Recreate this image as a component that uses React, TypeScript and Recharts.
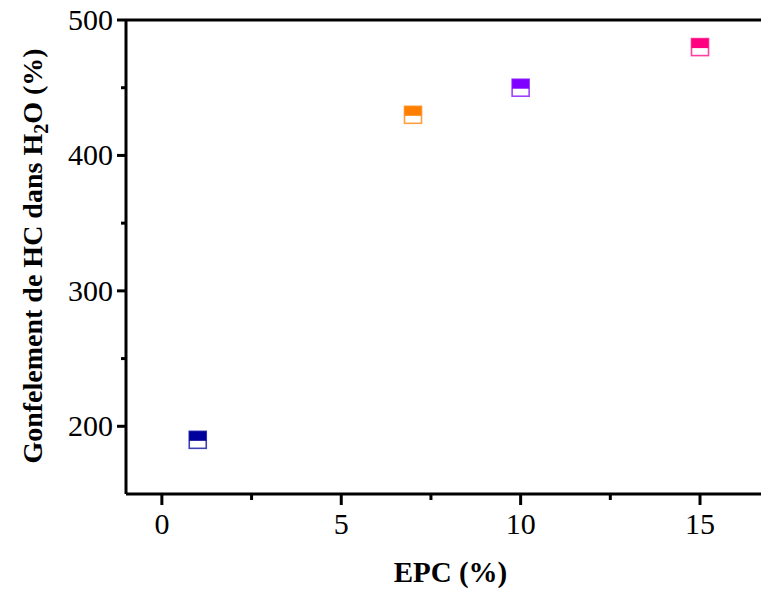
import React from 'react';
import { ScatterChart, Scatter, XAxis, YAxis, ReferenceLine } from 'recharts';

const epc = [1, 7, 10, 15];
const swelling = [190, 430, 450, 480];
const pointColors = ['#00009C', '#FF8000', '#8000FF', '#FF0080'];
const xTicks = [0, 2.5, 5, 7.5, 10, 12.5, 15];
const xMajor = [0, 5, 10, 15];
const yTicks = [200, 250, 300, 350, 400, 450, 500];
const yMajor = [200, 300, 400, 500];

const data = epc.map((x, i) => ({ x, y: swelling[i], color: pointColors[i] }));

const FONT = '"Liberation Serif", "Times New Roman", serif';

const XTick = (props: any) => {
  const { x, y, payload } = props;
  const major = xMajor.includes(payload.value);
  return (
    <g>
      <line x1={x} x2={x} y1={y} y2={y + (major ? 11 : 6)} stroke="#000" strokeWidth={3} />
      {major && (
        <text x={x} y={y + 40} textAnchor="middle" fontFamily={FONT} fontSize={30} fill="#000">
          {payload.value}
        </text>
      )}
    </g>
  );
};

const YTick = (props: any) => {
  const { x, y, payload } = props;
  const major = yMajor.includes(payload.value);
  return (
    <g>
      <line x1={x - (major ? 9 : 5)} x2={x} y1={y} y2={y} stroke="#000" strokeWidth={3} />
      {major && (
        <text x={x - 13} y={y + 10} textAnchor="end" fontFamily={FONT} fontSize={30} fill="#000">
          {payload.value}
        </text>
      )}
    </g>
  );
};

const HalfSquare = (props: any) => {
  const { cx, cy, payload } = props;
  const s = 17;
  const c = payload.color;
  return (
    <g>
      <rect x={cx - s / 2} y={cy - s / 2} width={s} height={s} fill="#fff" stroke={c} strokeWidth={1.6} strokeOpacity={0.75} />
      <rect x={cx - s / 2} y={cy - s / 2} width={s} height={s / 2 + 1} fill={c} />
    </g>
  );
};

const YLabel = (props: any) => {
  const vb = props.viewBox;
  const x = vb.x + 42;
  const y = vb.y + vb.height / 2 - 1;
  return (
    <text
      x={x}
      y={y}
      transform={`rotate(-90, ${x}, ${y})`}
      textAnchor="middle"
      fontFamily={FONT}
      fontWeight="bold"
      fontSize={28}
      fill="#000"
    >
      <tspan>Gonfelement de HC dans H</tspan>
      <tspan fontSize={20} dy={6}>2</tspan>
      <tspan dy={-6}>O (%)</tspan>
    </text>
  );
};

const XLabel = (props: any) => {
  const vb = props.viewBox;
  return (
    <text
      x={vb.x + vb.width / 2 + 7}
      y={vb.y + 88}
      textAnchor="middle"
      fontFamily={FONT}
      fontWeight="bold"
      fontSize={29}
      fill="#000"
    >
      EPC (%)
    </text>
  );
};

export default function App() {
  return (
    <div style={{ position: 'absolute', left: 0, top: 0, width: 761, height: 590, background: '#fff' }}>
      <ScatterChart width={761} height={590} margin={{ top: 20, right: 0, bottom: 0, left: 0 }}>
        <XAxis
          type="number"
          dataKey="x"
          domain={[-1, 16.7]}
          ticks={xTicks}
          allowDataOverflow
          height={96}
          tickSize={0}
          tickMargin={0}
          tickLine={false}
          tick={<XTick />}
          axisLine={{ stroke: '#000', strokeWidth: 3 }}
          label={<XLabel />}
        />
        <YAxis
          type="number"
          dataKey="y"
          domain={[150, 500]}
          ticks={yTicks}
          allowDataOverflow
          width={126}
          tickSize={0}
          tickMargin={0}
          tickLine={false}
          tick={<YTick />}
          axisLine={{ stroke: '#000', strokeWidth: 3 }}
          label={<YLabel />}
        />
        <ReferenceLine y={500} stroke="#000" strokeWidth={3} ifOverflow="visible" />
        <Scatter data={data} shape={<HalfSquare />} isAnimationActive={false} />
      </ScatterChart>
    </div>
  );
}
